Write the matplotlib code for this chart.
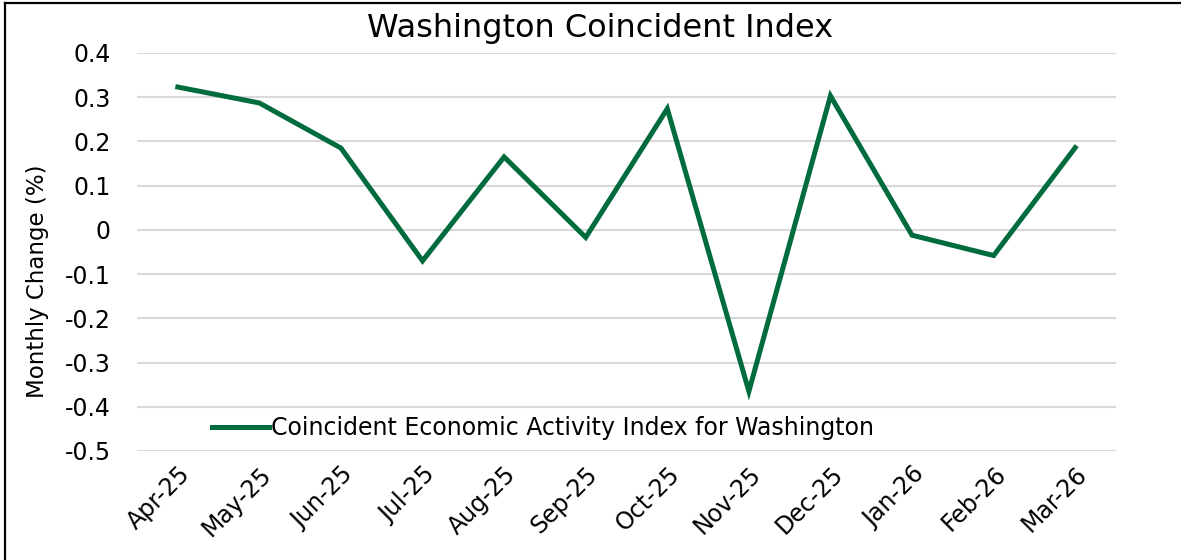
import matplotlib.pyplot as plt
from matplotlib.lines import Line2D

months = ["Apr-25", "May-25", "Jun-25", "Jul-25", "Aug-25", "Sep-25",
          "Oct-25", "Nov-25", "Dec-25", "Jan-26", "Feb-26", "Mar-26"]
change = [0.323, 0.287, 0.185, -0.070, 0.165, -0.017,
          0.274, -0.365, 0.303, -0.012, -0.058, 0.186]
yticks = [0.4, 0.3, 0.2, 0.1, 0, -0.1, -0.2, -0.3, -0.4, -0.5]
ytick_labels = ["0.4", "0.3", "0.2", "0.1", "0", "-0.1", "-0.2", "-0.3", "-0.4", "-0.5"]

green = "#006B3C"

fig = plt.figure(figsize=(11.81, 5.6), dpi=100)
ax = fig.add_axes([137 / 1181, 1 - 451 / 560, (1116 - 137) / 1181, (451 - 53) / 560])

x = range(len(months))
ax.plot(x, change, color=green, linewidth=3.6, solid_joinstyle="miter",
        label="Coincident Economic Activity Index for Washington")

ax.set_xlim(-0.5, len(months) - 0.5)
ax.set_ylim(-0.5, 0.4)
ax.set_yticks(yticks)
ax.set_yticklabels(ytick_labels, fontsize=17)
ax.set_xticks(list(x))
ax.set_xticklabels(months, rotation=45, ha="right", rotation_mode="anchor", fontsize=17)
ax.tick_params(length=0)
ax.tick_params(axis="x", pad=8)
ax.tick_params(axis="y", pad=19)

ax.grid(axis="y", color="#D9D9D9", linewidth=1.5)
ax.set_axisbelow(True)
for s in ax.spines.values():
    s.set_visible(False)

ax.set_ylabel("Monthly Change (%)", fontsize=16.5)
ax.yaxis.set_label_coords(-0.09, 0.427)
fig.text(600 / 1181, 1 - 28 / 560, "Washington Coincident Index", ha="center", va="center", fontsize=23)

ax.legend(loc="lower left", bbox_to_anchor=(0.06, -0.015), frameon=False, fontsize=17,
          handlelength=2.4, handletextpad=0.1, borderaxespad=0.3)

# frame around the figure (left and top edges)
fig.add_artist(Line2D([4.5 / 1181, 4.5 / 1181], [0, 1 - 2.5 / 560], color="black", linewidth=1.6))
fig.add_artist(Line2D([4.5 / 1181, 1], [1 - 2.5 / 560, 1 - 2.5 / 560], color="black", linewidth=1.6))

fig.savefig("out.png", dpi=100)
